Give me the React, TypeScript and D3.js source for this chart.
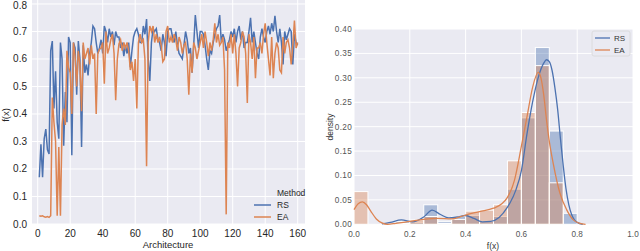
import React from "react";
import * as d3 from "d3";

// ---- left panel: f(x) per architecture ----
const archIds = d3.range(1, 161);

const rsValues = [
  0.17, 0.29, 0.17, 0.31, 0.345, 0.27, 0.255, 0.63, 0.665, 0.42,
  0.555, 0.37, 0.31, 0.66, 0.6, 0.285, 0.48, 0.37, 0.68, 0.66,
  0.25, 0.66, 0.64, 0.47, 0.665, 0.6, 0.28, 0.65, 0.55, 0.58,
  0.54, 0.62, 0.66, 0.72, 0.71, 0.66, 0.62, 0.64, 0.67, 0.62,
  0.72, 0.7, 0.66, 0.71, 0.68, 0.7, 0.65, 0.7, 0.68, 0.68,
  0.64, 0.66, 0.61, 0.65, 0.62, 0.66, 0.57, 0.63, 0.68, 0.7,
  0.71, 0.69, 0.66, 0.66, 0.72, 0.69, 0.745, 0.6, 0.52, 0.66,
  0.71, 0.7, 0.71, 0.67, 0.66, 0.63, 0.69, 0.66, 0.61, 0.7,
  0.71, 0.71, 0.68, 0.66, 0.7, 0.65, 0.62, 0.61, 0.6, 0.65,
  0.7, 0.67, 0.62, 0.64, 0.55, 0.65, 0.76, 0.7, 0.64, 0.7,
  0.7, 0.69, 0.65, 0.6, 0.56, 0.63, 0.62, 0.66, 0.69, 0.71,
  0.72, 0.76, 0.66, 0.69, 0.67, 0.63, 0.65, 0.67, 0.7, 0.68,
  0.71, 0.66, 0.7, 0.72, 0.67, 0.7, 0.64, 0.66, 0.66, 0.7,
  0.75, 0.66, 0.7, 0.66, 0.62, 0.6, 0.68, 0.71, 0.68, 0.66,
  0.7, 0.72, 0.69, 0.73, 0.7, 0.757, 0.7, 0.66, 0.71, 0.66,
  0.58, 0.7, 0.67, 0.69, 0.71, 0.7, 0.58, 0.69, 0.66, 0.65,
];

const eaValues = [
  0.03, 0.028, 0.03, 0.026, 0.025, 0.027, 0.024, 0.03, 0.46, 0.37,
  0.3, 0.03, 0.28, 0.03, 0.36, 0.42, 0.36, 0.63, 0.57, 0.55,
  0.4, 0.66, 0.61, 0.5, 0.63, 0.58, 0.41, 0.66, 0.6, 0.62,
  0.64, 0.58, 0.65, 0.6, 0.62, 0.4, 0.62, 0.635, 0.64, 0.66,
  0.51, 0.7, 0.62, 0.64, 0.67, 0.69, 0.62, 0.45, 0.6, 0.655,
  0.67, 0.63, 0.66, 0.64, 0.66, 0.63, 0.56, 0.59, 0.52, 0.6,
  0.42, 0.66, 0.69, 0.66, 0.67, 0.6, 0.21, 0.66, 0.72, 0.7,
  0.72, 0.66, 0.69, 0.66, 0.68, 0.65, 0.59, 0.6, 0.7, 0.72,
  0.66, 0.68, 0.66, 0.69, 0.67, 0.63, 0.68, 0.66, 0.62, 0.65,
  0.66, 0.6, 0.47, 0.62, 0.55, 0.66, 0.64, 0.6, 0.63, 0.66,
  0.69, 0.64, 0.7, 0.66, 0.61, 0.66, 0.63, 0.67, 0.73, 0.66,
  0.69, 0.65, 0.66, 0.68, 0.56, 0.035, 0.66, 0.64, 0.69, 0.62,
  0.69, 0.62, 0.5, 0.64, 0.66, 0.7, 0.68, 0.62, 0.44, 0.69,
  0.66, 0.6, 0.68, 0.53, 0.64, 0.64, 0.66, 0.62, 0.69, 0.73,
  0.66, 0.6, 0.54, 0.68, 0.53, 0.62, 0.66, 0.64, 0.56, 0.55,
  0.68, 0.62, 0.66, 0.67, 0.64, 0.58, 0.65, 0.74, 0.64, 0.66,
];

const leftYTicks = [0, 0.1, 0.2, 0.3, 0.4, 0.5, 0.6, 0.7, 0.8];
const leftXTicks = [0, 20, 40, 60, 80, 100, 120, 140, 160];

// ---- right panel: histogram + kde ----
const binStarts = [0, 0.05, 0.1, 0.15, 0.2, 0.25, 0.3, 0.35, 0.4, 0.45, 0.5, 0.55, 0.6, 0.65, 0.7, 0.75];
const rsHist = [0, 0, 0, 0.006, 0.004, 0.04, 0.006, 0.016, 0.018, 0.006, 0.016, 0.072, 0.218, 0.362, 0.191, 0.0225];
const eaHist = [0.067, 0, 0, 0.002, 0.009, 0.016, 0.002, 0.01, 0.027, 0.029, 0.04, 0.13, 0.229, 0.325, 0.085, 0];

const rsKde: [number, number][] = [
  [0.1, 0.001], [0.13, 0.004], [0.17, 0.009], [0.21, 0.005], [0.25, 0.015], [0.28, 0.029],
  [0.31, 0.02], [0.34, 0.013], [0.37, 0.015], [0.4, 0.018], [0.43, 0.012], [0.46, 0.005],
  [0.49, 0.006], [0.52, 0.014], [0.55, 0.035], [0.58, 0.07], [0.6, 0.11], [0.62, 0.185],
  [0.64, 0.25], [0.66, 0.3], [0.68, 0.33], [0.69, 0.337], [0.7, 0.333], [0.71, 0.315],
  [0.72, 0.28], [0.73, 0.235], [0.74, 0.175], [0.75, 0.12], [0.76, 0.072], [0.77, 0.04],
  [0.78, 0.02], [0.79, 0.009], [0.8, 0.004], [0.82, 0.0],
];
const eaKde: [number, number][] = [
  [0.0, 0.03], [0.015, 0.042], [0.03, 0.046], [0.045, 0.04], [0.06, 0.027], [0.08, 0.011],
  [0.1, 0.003], [0.12, 0.0], [0.15, 0.002], [0.2, 0.006], [0.25, 0.01], [0.3, 0.012],
  [0.35, 0.011], [0.4, 0.019], [0.45, 0.026], [0.5, 0.033], [0.53, 0.042], [0.55, 0.055],
  [0.575, 0.09], [0.6, 0.16], [0.62, 0.22], [0.64, 0.28], [0.66, 0.311], [0.67, 0.3],
  [0.68, 0.265], [0.69, 0.214], [0.7, 0.17], [0.714, 0.125], [0.738, 0.064], [0.762, 0.03],
  [0.786, 0.009], [0.81, 0.002], [0.83, 0],
];

const rightYTicks = [0, 0.05, 0.1, 0.15, 0.2, 0.25, 0.3, 0.35, 0.4];
const rightXTicks = [0, 0.2, 0.4, 0.6, 0.8, 1.0];

const BLUE = "#4C72B0";
const ORANGE = "#DD8452";
const BG = "#EAEAF2";
const FONT = "'Liberation Sans', Arial, sans-serif";

export default function App() {
  // left scales
  const lx = d3.scaleLinear().domain([-3.5, 164.5]).range([32, 305]);
  const ly = d3.scaleLinear().domain([0, 0.8145]).range([224, 0]);
  const lineL = d3
    .line<number>()
    .x((_, i) => lx(archIds[i]))
    .y((d) => ly(d));

  // right scales
  const rx = d3.scaleLinear().domain([0, 1]).range([354, 633]);
  const ry = d3.scaleLinear().domain([0, 0.4]).range([224.3, 29]);
  const kdeLine = d3
    .line<[number, number]>()
    .x((d) => rx(d[0]))
    .y((d) => ry(d[1]))
    .curve(d3.curveMonotoneX);

  const binW = 0.05;

  return (
    <svg
      width={640}
      height={251}
      style={{ position: "absolute", left: 0, top: 0, background: "#fff" }}
      fontFamily={FONT}
    >
      {/* ---------- left chart ---------- */}
      <rect x={32} y={0} width={273} height={224} fill={BG} />
      {leftYTicks.map((t) => (
        <line key={"lgy" + t} x1={32} x2={305} y1={ly(t)} y2={ly(t)} stroke="#fff" strokeWidth={1} />
      ))}
      {leftXTicks.map((t) => (
        <line key={"lgx" + t} x1={lx(t)} x2={lx(t)} y1={0} y2={224} stroke="#fff" strokeWidth={1} />
      ))}
      <path d={lineL(rsValues) || ""} fill="none" stroke={BLUE} strokeWidth={1.5} />
      <path d={lineL(eaValues) || ""} fill="none" stroke={ORANGE} strokeWidth={1.5} />
      {leftYTicks.map((t) => (
        <text key={"lty" + t} x={27} y={Math.max(ly(t), 5.5)} dy="0.35em" textAnchor="end" fontSize={10} fill="#262626">
          {t.toFixed(1)}
        </text>
      ))}
      {leftXTicks.map((t) => (
        <text key={"ltx" + t} x={lx(t)} y={237} textAnchor="middle" fontSize={10} fill="#262626">
          {t}
        </text>
      ))}
      <text x={168} y={248} textAnchor="middle" fontSize={9.5} fill="#262626">
        Architecture
      </text>
      <text transform="translate(9,115) rotate(-90)" textAnchor="middle" fontSize={9.5} fill="#262626">
        f(x)
      </text>
      {/* left legend */}
      <text x={277} y={193} dy="0.35em" fontSize={8.5} fill="#262626">Method</text>
      <line x1={254} x2={271} y1={205} y2={205} stroke={BLUE} strokeWidth={1.5} />
      <text x={277} y={205} dy="0.35em" fontSize={8.5} fill="#262626">RS</text>
      <line x1={254} x2={271} y1={217} y2={217} stroke={ORANGE} strokeWidth={1.5} />
      <text x={277} y={217} dy="0.35em" fontSize={8.5} fill="#262626">EA</text>

      {/* ---------- right chart ---------- */}
      <rect x={354} y={29} width={279} height={195.3} fill={BG} />
      {rightYTicks.map((t) => (
        <line key={"rgy" + t} x1={354} x2={633} y1={ry(t)} y2={ry(t)} stroke="#fff" strokeWidth={1} />
      ))}
      {rightXTicks.map((t) => (
        <line key={"rgx" + t} x1={rx(t)} x2={rx(t)} y1={29} y2={224.3} stroke="#fff" strokeWidth={1} />
      ))}
      {binStarts.map((b, i) =>
        rsHist[i] > 0 ? (
          <rect
            key={"rsb" + i}
            x={rx(b)}
            y={ry(rsHist[i])}
            width={rx(b + binW) - rx(b)}
            height={ry(0) - ry(rsHist[i])}
            fill={BLUE}
            fillOpacity={0.4}
            stroke="#fff"
            strokeWidth={1}
          />
        ) : null
      )}
      {binStarts.map((b, i) =>
        eaHist[i] > 0 ? (
          <rect
            key={"eab" + i}
            x={rx(b)}
            y={ry(eaHist[i])}
            width={rx(b + binW) - rx(b)}
            height={ry(0) - ry(eaHist[i])}
            fill={ORANGE}
            fillOpacity={0.4}
            stroke="#fff"
            strokeWidth={1}
          />
        ) : null
      )}
      <path d={kdeLine(rsKde) || ""} fill="none" stroke={BLUE} strokeWidth={1.3} />
      <path d={kdeLine(eaKde) || ""} fill="none" stroke={ORANGE} strokeWidth={1.3} />
      {rightYTicks.map((t) => (
        <text key={"rty" + t} x={352} y={ry(t)} dy="0.35em" textAnchor="end" fontSize={8.2} fill="#555" letterSpacing={0.3}>
          {t.toFixed(2)}
        </text>
      ))}
      {rightXTicks.map((t) => (
        <text key={"rtx" + t} x={rx(t)} y={237} textAnchor="middle" fontSize={8.2} fill="#555">
          {t.toFixed(1)}
        </text>
      ))}
      <text x={493} y={249} textAnchor="middle" fontSize={8.5} fill="#333">
        f(x)
      </text>
      <text transform="translate(333,127) rotate(-90)" textAnchor="middle" fontSize={8.5} fill="#333">
        density
      </text>
      {/* right legend */}
      <rect x={592} y={31} width={38} height={25} rx={2} fill={BG} stroke="#d8d8d8" strokeWidth={0.8} />
      <line x1={595} x2={610} y1={38} y2={38} stroke={BLUE} strokeWidth={1.3} />
      <text x={614} y={38} dy="0.35em" fontSize={8} fill="#333">RS</text>
      <line x1={595} x2={610} y1={50} y2={50} stroke={ORANGE} strokeWidth={1.3} />
      <text x={614} y={50} dy="0.35em" fontSize={8} fill="#333">EA</text>
    </svg>
  );
}
